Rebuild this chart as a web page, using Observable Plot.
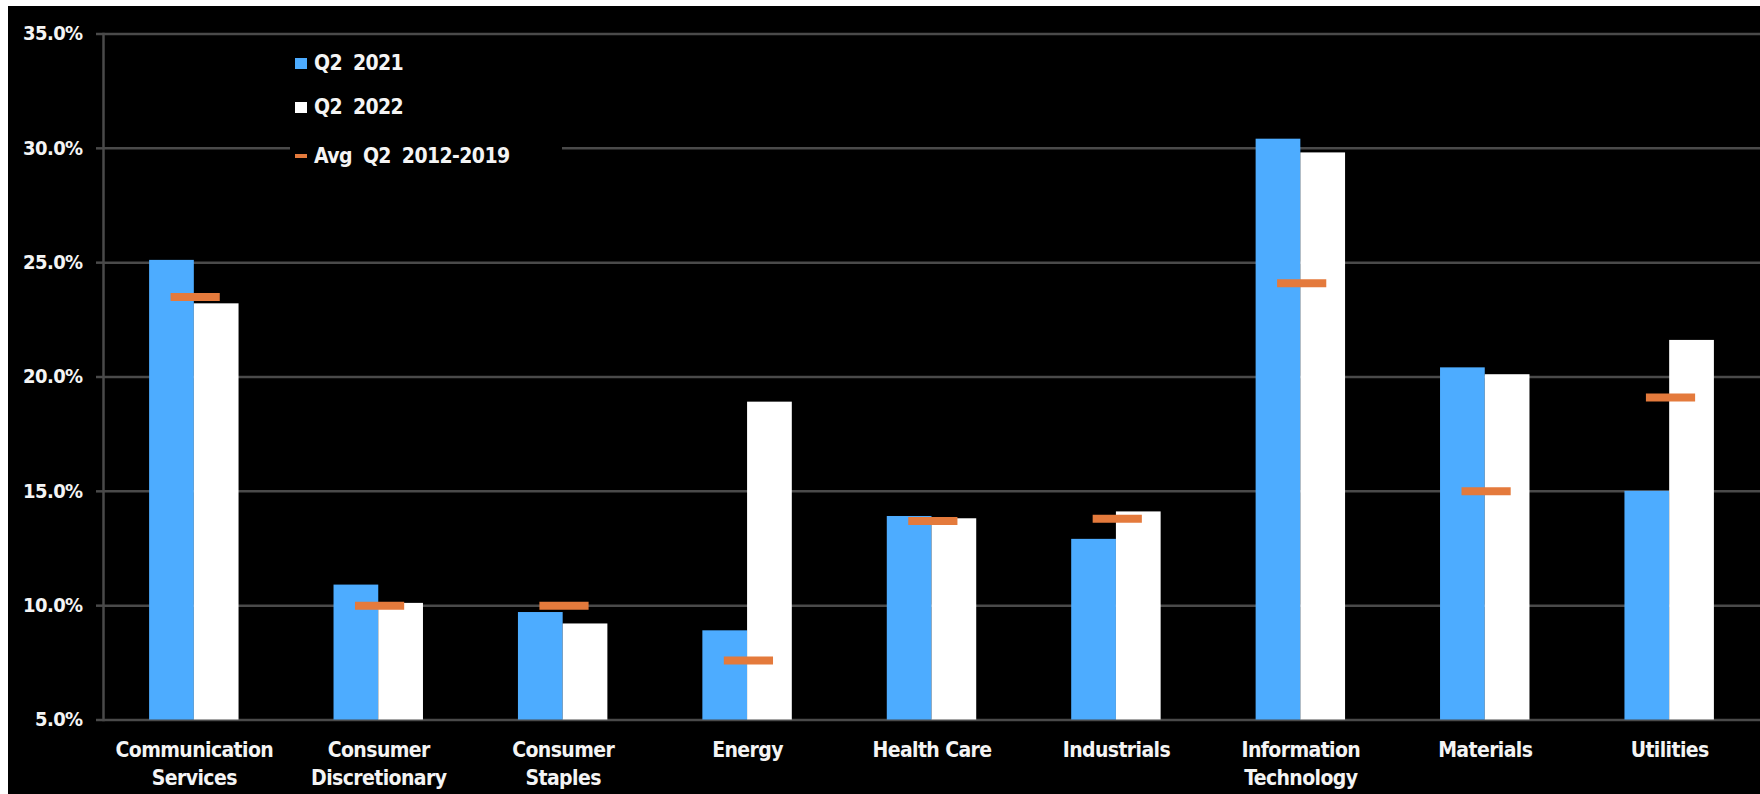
<!DOCTYPE html>
<html>
<head>
<meta charset="utf-8">
<script src="https://cdn.jsdelivr.net/npm/d3@7"></script>
<script src="https://cdn.jsdelivr.net/npm/@observablehq/plot@0.6"></script>
<style>
  html, body { margin: 0; padding: 0; background: #ffffff; }
  #wrap { position: relative; width: 1760px; height: 794px; overflow: hidden; background: #000; }
  #wrap svg { position: absolute; left: 0; top: 0; display: block; }
  .strip { position: absolute; background: #ffffff; }
  #legend { position: absolute; left: 290px; top: 40px; width: 272px; height: 132px; background: #000; }
  .item { position: absolute; left: 5px; height: 24px; display: flex; align-items: center;
          font-family: "DejaVu Sans Condensed", "DejaVu Sans", sans-serif; font-weight: bold;
          font-size: 21px; color: #f4f4f4; white-space: pre; letter-spacing: -0.6px; word-spacing: 5px; }
  .sw { width: 12px; height: 11px; margin-right: 7px; flex: none; }
</style>
</head>
<body>
<div id="wrap">
  <div id="chart"></div>
  <div id="legend"></div>
  <div class="strip" style="left:0;top:0;width:1760px;height:6px"></div>
  <div class="strip" style="left:0;top:0;width:8px;height:794px"></div>
</div>
<script>
// ---- data ----
const categories = ["Communication Services", "Consumer Discretionary", "Consumer Staples", "Energy",
  "Health Care", "Industrials", "Information Technology", "Materials", "Utilities"];
const categoryLabels = ["Communication\nServices", "Consumer\nDiscretionary", "Consumer\nStaples", "Energy",
  "Health Care", "Industrials", "Information\nTechnology", "Materials", "Utilities"];
const q2_2021 = [25.1, 10.9, 9.7, 8.9, 13.9, 12.9, 30.4, 20.4, 15.0];
const q2_2022 = [23.2, 10.1, 9.2, 18.9, 13.8, 14.1, 29.8, 20.1, 21.6];
const avgQ2_2012_2019 = [23.5, 10.0, 10.0, 7.6, 13.7, 13.8, 24.1, 15.0, 19.1];
const yTicks = [5, 10, 15, 20, 25, 30, 35];
const seriesNames = ["Q2 2021", "Q2 2022", "Avg Q2 2012-2019"];

// ---- styling / layout ----
const colors = {q21: "#4dacff", q22: "#ffffff", avg: "#e47a3c", grid: "#4a4a4a"};
const W = 1760, H = 794, ML = 103, MR = 0, MT = 33.5, MB = 74.5;
const PI = 0.515, PO = 0.25;
const step = (W - ML - MR) / (categories.length - PI + 2 * PO);
const bw = step * (1 - PI);
const FONT = '"DejaVu Sans Condensed", "DejaVu Sans", sans-serif';

const rows = categories.map((c, i) => ({cat: c, q21: q2_2021[i], q22: q2_2022[i], avg: avgQ2_2012_2019[i]}));
const labelOf = new Map(categories.map((c, i) => [c, categoryLabels[i]]));

const chart = Plot.plot({
  width: W, height: H,
  marginLeft: ML, marginRight: MR, marginTop: MT, marginBottom: MB,
  style: {background: "#000", color: "#f4f4f4", fontFamily: FONT, overflow: "visible"},
  x: {domain: categories, paddingInner: PI, paddingOuter: PO, round: false, axis: null},
  y: {domain: [5, 35], axis: null},
  marks: [
    Plot.gridY(yTicks, {stroke: colors.grid, strokeOpacity: 1, strokeWidth: 2.5}),
    Plot.frame({anchor: "left", stroke: colors.grid, strokeOpacity: 1, strokeWidth: 2.5}),
    Plot.barY(rows, {x: "cat", y1: 5, y2: "q21", fill: colors.q21, insetRight: bw / 2}),
    Plot.barY(rows, {x: "cat", y1: 5, y2: "q22", fill: colors.q22, insetLeft: bw / 2}),
    Plot.tickY(rows, {x: "cat", y: "avg", stroke: colors.avg, strokeWidth: 8, insetLeft: bw * 0.24, insetRight: bw * 0.21}),
    Plot.axisY(yTicks, {
      tickSize: 7, tickPadding: 14, stroke: colors.grid, strokeOpacity: 1, strokeWidth: 2.5,
      fill: "#f4f4f4", fontSize: 20, fontWeight: "bold",
      tickFormat: d => d.toFixed(1) + "%", label: null
    }),
    Plot.axisX({
      tickSize: 0, tickPadding: 18, fill: "#f4f4f4", fontSize: 21, fontWeight: "bold",
      lineHeight: 1.3, tickFormat: d => labelOf.get(d), label: null
    })
  ]
});
chart.style.letterSpacing = "-0.6px";
document.getElementById("chart").appendChild(chart);

// legend (sits inside the plot area, over the gridlines)
const legend = document.getElementById("legend");
const legendItems = [
  {name: seriesNames[0], color: colors.q21, top: 11, sh: 11},
  {name: seriesNames[1], color: colors.q22, top: 55, sh: 11},
  {name: seriesNames[2], color: colors.avg, top: 104, sh: 4}
];
for (const it of legendItems) {
  const d = document.createElement("div");
  d.className = "item";
  d.style.top = it.top + "px";
  const sw = document.createElement("span");
  sw.className = "sw";
  sw.style.background = it.color;
  sw.style.height = it.sh + "px";
  d.appendChild(sw);
  d.appendChild(document.createTextNode(it.name));
  legend.appendChild(d);
}
</script>
</body>
</html>
